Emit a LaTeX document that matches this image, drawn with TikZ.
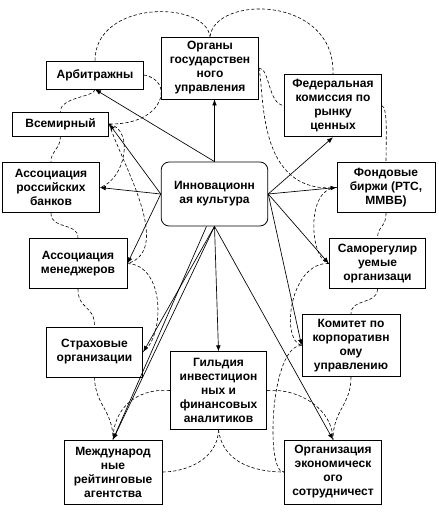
\documentclass[tikz,border=0pt]{standalone}
\usepackage{fontspec}
\setmainfont{Liberation Sans}
\usetikzlibrary{arrows.meta,calc}

\begin{document}
\begin{tikzpicture}[x=0.75pt, y=-0.75pt, font=\fontsize{9}{10.5}\selectfont\bfseries, box/.style={draw, line width=0.6pt, align=center, inner sep=1pt, minimum width=72.5pt}, arr/.style={-{Latex[length=4.5pt,width=3.5pt]}, line width=0.5pt}, cloud/.style={dashed, dash pattern=on 2.4pt off 1.6pt, line width=0.45pt}]
\useasboundingbox (0,0) rectangle (438,516);
\node[box, minimum height=21pt] (arb) at (95,75) {Арбитражны};
\node[box, minimum height=46.5pt] (org) at (210,68) {Органы\\государствен\\ного\\управления};
\node[box, minimum height=18pt] (vsem) at (60.5,124) {Всемирный};
\node[box, minimum height=47pt] (fed) at (333,105.5) {Федеральная\\комиссия по\\рынку\\ценных};
\node[box, minimum height=38pt] (assr) at (51,187.5) {Ассоциация\\российских\\банков};
\node[box, rounded corners=6pt, minimum width=80pt, minimum height=48pt] (inno) at (214.5,194) {Инновационн\\ая культура};
\node[box, minimum width=73.5pt, minimum height=38pt] (fond) at (386,187.5) {Фондовые\\биржи (РТС,\\ММВБ)};
\node[box, minimum width=73.5pt, minimum height=38pt] (assm) at (78,263.5) {Ассоциация\\менеджеров};
\node[box, minimum height=38pt] (samo) at (377.5,263.5) {Саморегулир\\уемые\\организаци};
\node[box, minimum height=37.5pt] (strah) at (94.5,352) {Страховые\\организации};
\node[box, minimum width=73.5pt, minimum height=47pt] (kom) at (351,345.5) {Комитет по\\корпоративн\\ому\\управлению};
\node[box, minimum height=58pt] (gild) at (218.5,390.5) {Гильдия\\инвестицион\\ных и\\финансовых\\аналитиков};
\node[box, minimum width=73.5pt, minimum height=48pt] (mezh) at (113,472) {Международ\\ные\\рейтинговые\\агентства};
\node[box, minimum height=48pt] (oes) at (333,472) {Организация\\экономическ\\ого\\сотрудничест};
% arrows from the centre
\draw[arr] (inno.north) -- (inno.north |- org.south);
\draw[arr] (inno.north) -- (arb.south);
\draw[arr] (inno.west) -- (vsem.east);
\draw[arr] (inno.west) -- (assr.east);
\draw[arr] (inno.west) -- (assm.east);
\draw[arr] (inno.south) -- (strah.east);
\draw[arr] (inno.south) -- (mezh.north);
\draw[arr] ([xshift=-6pt]inno.south) -- (mezh.north);
\draw[arr] (inno.south) -- (gild.north);
\draw[arr] (inno.south) -- (oes.north);
\draw[arr] (inno.east) -- (fed.south);
\draw[arr] (inno.east) -- (fond.west);
\draw[arr] (inno.east) -- (samo.west);
\draw[arr] (inno.east) -- (kom.west);
% dashed cloud, outer ring
\draw[cloud] (arb.north) .. controls (95,0) and (205,0) .. (org.north);
\draw[cloud] (org.north) .. controls (215,-5) and (335,-5) .. (fed.north);
\draw[cloud] (fed.east) .. controls (388,107) and (386,140) .. (fond.north);
\draw[cloud] (fond.south) .. controls (386,228) and (378,225) .. (samo.north);
\draw[cloud] (samo.south) .. controls (377,305) and (351,298) .. (kom.north);
\draw[cloud] (kom.south) .. controls (351,405) and (333,410) .. (oes.north);
\draw[cloud] (strah.south) .. controls (95,405) and (113,410) .. (mezh.north);
\draw[cloud] (assm.south) .. controls (78,310) and (95,305) .. (strah.north);
\draw[cloud] (assr.south) .. controls (51,230) and (78,222) .. (assm.north);
\draw[cloud] (vsem.south) .. controls (60,150) and (51,150) .. (assr.north);
\draw[cloud] (arb.south) .. controls (95,97) and (60,97) .. (vsem.north);
% dashed cloud, inner ring
\draw[cloud] (arb.east) .. controls (175,80) and (165,125) .. (vsem.east);
\draw[cloud] (vsem.east) .. controls (135,130) and (125,180) .. (assr.east);
\draw[cloud] (vsem.east) .. controls (120,160) and (175,250) .. (assm.east);
\draw[cloud] (assm.east) .. controls (165,265) and (165,335) .. (strah.east);
\draw[cloud] (gild.west) .. controls (135,388) and (113,410) .. (mezh.north);
\draw[cloud] (gild.south) .. controls (218,460) and (185,472) .. (mezh.east);
\draw[cloud] (gild.east) .. controls (300,388) and (333,410) .. (oes.north);
\draw[cloud] (gild.south) .. controls (222,460) and (250,472) .. (oes.west);
\draw[cloud] (kom.west) .. controls (270,345) and (265,475) .. (oes.west);
\draw[cloud] (samo.west) .. controls (290,262) and (280,340) .. (kom.west);
\draw[cloud] (fond.west) .. controls (305,188) and (310,260) .. (samo.west);
\draw[cloud] (org.east) .. controls (270,68) and (268,105) .. (fed.west);
\draw[cloud] (org.east) .. controls (265,90) and (255,195) .. (fond.west);
\end{tikzpicture}
\end{document}
